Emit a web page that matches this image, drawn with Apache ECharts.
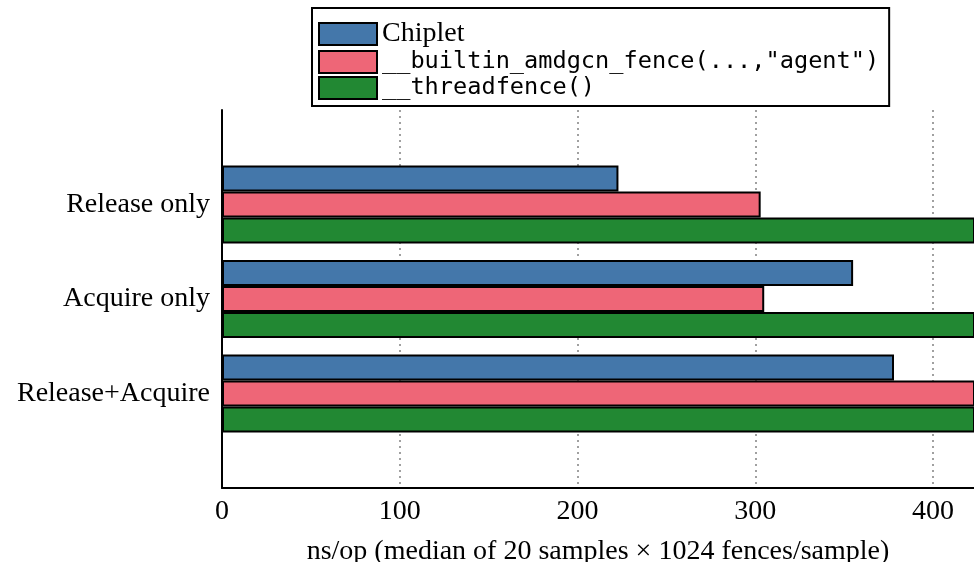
<!DOCTYPE html>
<html>
<head>
<meta charset="utf-8">
<script src="https://cdn.jsdelivr.net/npm/echarts@6/dist/echarts.min.js"></script>
<style>html,body{margin:0;padding:0;background:#fff}#c{width:974px;height:562px}</style>
</head>
<body>
<div id="c"></div>
<script>
const categories = ['', 'Release only', 'Acquire only', 'Release+Acquire', ''];
const seriesNames = ['Chiplet', '__builtin_amdgcn_fence(...,"agent")', '__threadfence()'];
const chipletValues = [null, 223, 355, 378, null];
const amdgcnFenceValues = [null, 303, 305, 440, null];
const threadfenceValues = [null, 445, 440, 450, null];
const xTicks = [0, 100, 200, 300, 400];
const colors = ['#4477AA', '#EE6677', '#228833'];

const serif = 'Liberation Serif';
const mono = 'DejaVu Sans Mono';
const chart = echarts.init(document.getElementById('c'));
const allValues = [chipletValues, amdgcnFenceValues, threadfenceValues];
chart.setOption({
  animation: false,
  backgroundColor: '#fff',
  grid: { left: 222, right: 0, top: 110, bottom: 74, containLabel: false, outerBoundsMode: 'none' },
  legend: {
    orient: 'vertical',
    left: 312, top: 8,
    padding: [12, 10, 6, 6],
    borderColor: '#000', borderWidth: 2, borderRadius: 0,
    backgroundColor: '#fff',
    itemGap: 2, itemWidth: 58, itemHeight: 22,
    icon: 'rect',
    z: 10,
    data: [
      { name: seriesNames[0], textStyle: { fontFamily: serif, fontSize: 28, color: '#000', lineHeight: 23 } },
      { name: seriesNames[1], textStyle: { fontFamily: mono, fontSize: 23.6, color: '#000', lineHeight: 23 } },
      { name: seriesNames[2], textStyle: { fontFamily: mono, fontSize: 23.6, color: '#000', lineHeight: 23 } }
    ]
  },
  xAxis: {
    type: 'value', min: 0, max: 423, interval: 100,
    axisLine: { show: true, lineStyle: { color: '#000', width: 2 } },
    axisTick: { show: false },
    axisLabel: {
      fontFamily: serif, fontSize: 28, color: '#000', margin: 10,
      showMaxLabel: false,
      formatter: v => xTicks.includes(v) ? String(v) : ''
    },
    splitLine: { show: true, showMinLine: false, showMaxLine: false, lineStyle: { color: '#a0a0a0', width: 2, type: [2, 4] } },
    name: 'ns/op (median of 20 samples × 1024 fences/sample)',
    nameLocation: 'middle', nameGap: 50,
    nameTextStyle: { fontFamily: serif, fontSize: 28, color: '#000' }
  },
  yAxis: {
    type: 'category', data: categories, inverse: true, boundaryGap: false,
    axisLine: { show: true, lineStyle: { color: '#000', width: 2 } },
    axisTick: { show: false },
    axisLabel: { fontFamily: serif, fontSize: 28, color: '#000', margin: 12 },
    splitLine: { show: false }
  },
  series: seriesNames.map((n, i) => ({
    name: n, type: 'bar', data: allValues[i],
    barWidth: 26, barGap: '0%',
    itemStyle: { color: colors[i], borderColor: '#000', borderWidth: 2 }
  }))
});
</script>
</body>
</html>
